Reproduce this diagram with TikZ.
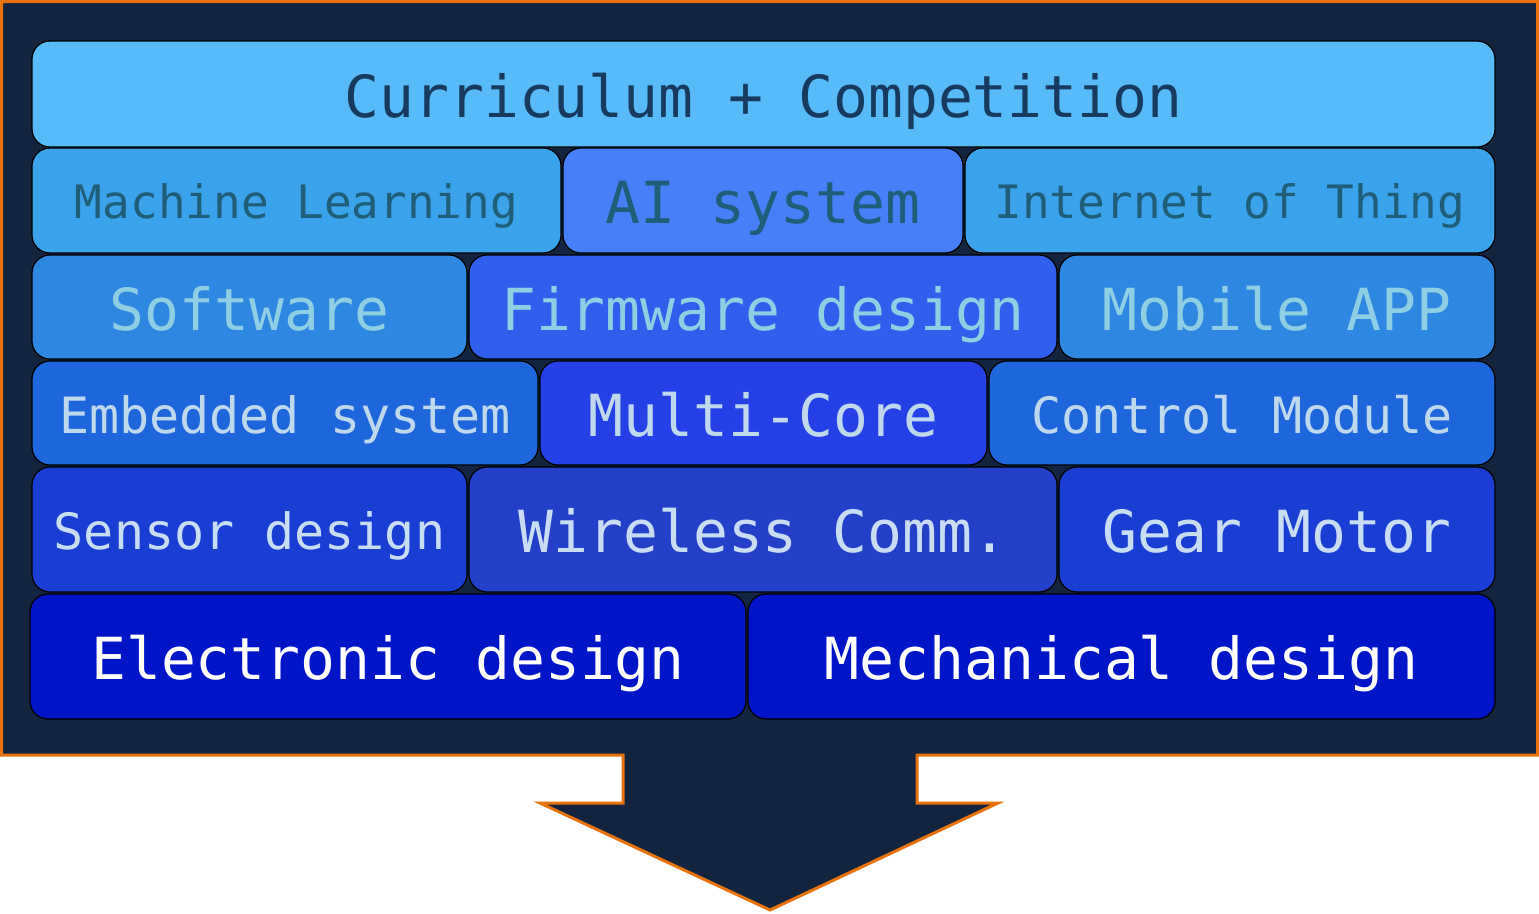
\documentclass[tikz,border=0pt]{standalone}
\usepackage{fontspec}
\newfontfamily\dvm{DejaVu Sans Mono}
\definecolor{navy}{HTML}{12243E}
\definecolor{frameorange}{HTML}{E8720C}
\definecolor{cA}{HTML}{57BBF9}
\definecolor{cB}{HTML}{3BA3EC}
\definecolor{cBm}{HTML}{467FF7}
\definecolor{cC}{HTML}{2E88E2}
\definecolor{cCm}{HTML}{305FEE}
\definecolor{cD}{HTML}{1E66DC}
\definecolor{cDm}{HTML}{2540E6}
\definecolor{cE}{HTML}{1A3ED4}
\definecolor{cEm}{HTML}{2540C8}
\definecolor{cF}{HTML}{0014C8}
\definecolor{tA}{HTML}{173A5E}
\definecolor{tB}{HTML}{1F5E78}
\definecolor{tC}{HTML}{8ECFE3}
\definecolor{tD}{HTML}{C0D8EE}
\definecolor{tE}{HTML}{C8DCF4}
\tikzset{
  box/.style={draw=black, line width=1.2pt, rounded corners=18pt, inner sep=0pt, outer sep=0pt},
  big/.style={font=\dvm\fontsize{58}{60}\selectfont, text height=52.2pt, text depth=5.8pt},
  midsz/.style={font=\dvm\fontsize{50}{52}\selectfont, text height=45pt, text depth=5pt},
  smallsz/.style={font=\dvm\fontsize{46}{48}\selectfont, text height=41.4pt, text depth=4.6pt}
}
\begin{document}
\begin{tikzpicture}[x=1pt,y=-1pt]
\useasboundingbox (0,0) rectangle (1539,913);
\path[fill=navy, draw=frameorange, line width=3pt, line join=miter]
  (1.5,1.5) -- (1537.5,1.5) -- (1537.5,755) -- (917,755) -- (917,803) -- (998,803)
  -- (770,910) -- (540,803) -- (623,803) -- (623,755) -- (1.5,755) -- cycle;
% row 1
\node[box, big, fill=cA, text=tA, minimum width=1463pt, minimum height=106pt] (cc) at (763.5,94) {Curriculum + Competition};
% row 2
\node[box, smallsz, fill=cB, text=tB, minimum width=529pt, minimum height=105pt] (ml) at (296.5,200.5) {Machine Learning};
\node[box, big, fill=cBm, text=tB, minimum width=400pt, minimum height=105pt] (ai) at (763,200.5) {AI system};
\node[box, smallsz, fill=cB, text=tB, minimum width=530pt, minimum height=105pt] (iot) at (1230,200.5) {Internet of Thing};
% row 3
\node[box, big, fill=cC, text=tC, minimum width=435pt, minimum height=104pt] (sw) at (249.5,307) {Software};
\node[box, big, fill=cCm, text=tC, minimum width=588pt, minimum height=104pt] (fw) at (763,307) {Firmware design};
\node[box, big, fill=cC, text=tC, minimum width=436pt, minimum height=104pt] (app) at (1277,307) {Mobile APP};
% row 4
\node[box, midsz, fill=cD, text=tD, minimum width=506pt, minimum height=104pt] (emb) at (285,413) {Embedded system};
\node[box, big, fill=cDm, text=tD, minimum width=447pt, minimum height=104pt] (mc) at (763.5,413) {Multi-Core};
\node[box, midsz, fill=cD, text=tD, minimum width=506pt, minimum height=104pt] (ctl) at (1242,413) {Control Module};
% row 5
\node[box, midsz, fill=cE, text=tE, minimum width=435pt, minimum height=125pt] (sen) at (249.5,529.5) {Sensor design};
\node[box, big, fill=cEm, text=tE, minimum width=588pt, minimum height=125pt] (wc) at (763,529.5) {Wireless Comm.};
\node[box, big, fill=cE, text=tE, minimum width=436pt, minimum height=125pt] (gm) at (1277,529.5) {Gear Motor};
% row 6
\node[box, big, fill=cF, text=white, minimum width=716pt, minimum height=125pt] (ed) at (388,656.5) {Electronic design};
\node[box, big, fill=cF, text=white, minimum width=747pt, minimum height=125pt] (md) at (1121.5,656.5) {Mechanical design};
\end{tikzpicture}
\end{document}
